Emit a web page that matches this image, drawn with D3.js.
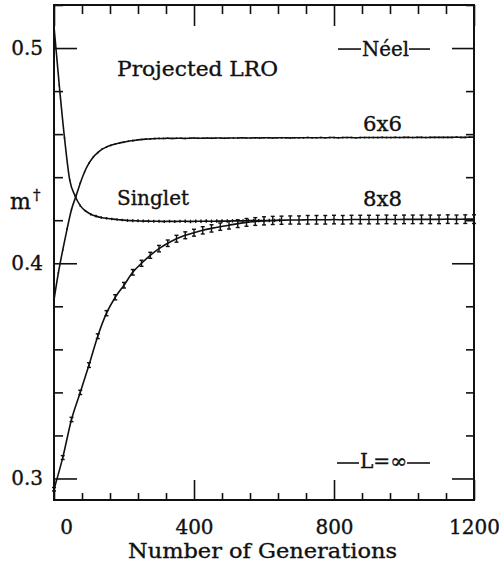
<!DOCTYPE html>
<html>
<head>
<meta charset="utf-8">
<script src="https://cdn.jsdelivr.net/npm/d3@7"></script>
<style>
  body { margin: 0; background: #fff; }
  text { font-family: "DejaVu Serif", serif; fill: #111; stroke: #111; stroke-width: 0.35; }
</style>
</head>
<body>
<div id="chart"></div>
<script>
// generations at which each run was sampled
var gens6 = d3.range(0, 1201, 12.5);
var gensSinglet = d3.range(0, 646, 15);
var gens8 = d3.range(0, 1201, 25);

// 6x6 projected from Neel state
var m6x6 = [
  0.3830, 0.3955, 0.4062, 0.4160, 0.4250, 0.4310, 0.4372, 0.4425, 0.4465, 0.4494,
  0.4514, 0.4530, 0.4540, 0.4548, 0.4554, 0.4559, 0.4563, 0.4567, 0.4570, 0.4573,
  0.4575, 0.4577, 0.4578, 0.4579, 0.4580,
  0.4580, 0.4581, 0.4580, 0.4581, 0.4581, 0.4580, 0.4581, 0.4582, 0.4581, 0.4581,
  0.4582, 0.4581, 0.4582, 0.4582, 0.4581, 0.4582,
  0.4582, 0.4582, 0.4583, 0.4582, 0.4582, 0.4583, 0.4582, 0.4583, 0.4583, 0.4582,
  0.4583, 0.4583, 0.4583, 0.4582, 0.4583, 0.4583,
  0.4583, 0.4584, 0.4583, 0.4583, 0.4584, 0.4583, 0.4584, 0.4584, 0.4583, 0.4584,
  0.4584, 0.4584, 0.4583, 0.4584, 0.4584, 0.4584,
  0.4584, 0.4584, 0.4585, 0.4584, 0.4584, 0.4585, 0.4584, 0.4585, 0.4585, 0.4584,
  0.4585, 0.4585, 0.4584, 0.4585, 0.4585, 0.4585,
  0.4585, 0.4585, 0.4585, 0.4586, 0.4585, 0.4585, 0.4586, 0.4586
];
var err6x6 = 0.0004;

// singlet start
var mSinglet = [
  0.5100, 0.4828, 0.4583, 0.4386, 0.4314, 0.4268, 0.4243, 0.4228, 0.4219, 0.4213,
  0.4209, 0.4206, 0.4203, 0.4201, 0.4199, 0.4198, 0.4197, 0.4196, 0.4196, 0.4195,
  0.4195, 0.4194, 0.4195, 0.4194, 0.4195, 0.4195, 0.4194, 0.4195, 0.4195, 0.4196,
  0.4195, 0.4196, 0.4196, 0.4196, 0.4197, 0.4197, 0.4197, 0.4198, 0.4198, 0.4198,
  0.4199, 0.4199, 0.4199, 0.4200
];
var errSinglet = [
  0.0003, 0.0003, 0.0004, 0.0004, 0.0005, 0.0005, 0.0005, 0.0006, 0.0006, 0.0006,
  0.0006, 0.0006, 0.0006, 0.0006, 0.0007, 0.0007, 0.0007, 0.0007, 0.0007, 0.0007,
  0.0007, 0.0007, 0.0007, 0.0007, 0.0007, 0.0008, 0.0008, 0.0008, 0.0008, 0.0008,
  0.0008, 0.0008, 0.0008, 0.0008, 0.0008, 0.0008, 0.0008, 0.0008, 0.0008, 0.0008,
  0.0008, 0.0008, 0.0008, 0.0008
];

// 8x8
var m8x8 = [
  0.2950, 0.3097, 0.3274, 0.3400, 0.3527, 0.3661, 0.3768, 0.3842, 0.3898, 0.3958,
  0.4000, 0.4037, 0.4068, 0.4093, 0.4114, 0.4130, 0.4142, 0.4153, 0.4162, 0.4170,
  0.4177, 0.4184, 0.4190, 0.4194, 0.4197, 0.4199, 0.4200, 0.4201, 0.4201, 0.4202,
  0.4202, 0.4202, 0.4203, 0.4202, 0.4203, 0.4203, 0.4203, 0.4203, 0.4204, 0.4203,
  0.4204, 0.4204, 0.4204, 0.4204, 0.4204, 0.4205, 0.4204, 0.4205, 0.4205
];
var err8x8 = [
  0.0008, 0.0009, 0.0010, 0.0010, 0.0011, 0.0011, 0.0012, 0.0012, 0.0013, 0.0013,
  0.0014, 0.0014, 0.0015, 0.0015, 0.0016, 0.0016, 0.0016, 0.0017, 0.0017, 0.0017,
  0.0018, 0.0018, 0.0018, 0.0018, 0.0019, 0.0019, 0.0019, 0.0019, 0.0019, 0.0020,
  0.0020, 0.0020, 0.0020, 0.0020, 0.0020, 0.0020, 0.0020, 0.0020, 0.0020, 0.0020,
  0.0020, 0.0020, 0.0020, 0.0020, 0.0020, 0.0020, 0.0020, 0.0020, 0.0020
];

var xMajor = [0, 400, 800, 1200];
var xMinor = [80, 160, 240, 320, 480, 560, 640, 720, 880, 960, 1040, 1120];
var yMajor = [0.3, 0.4, 0.5];
var yMinor = [0.32, 0.34, 0.36, 0.38, 0.42, 0.44, 0.46, 0.48, 0.52];

var width = 499, height = 567;
var margin = {top: 5, right: 25, bottom: 67, left: 54};

var svg = d3.select("#chart").append("svg")
  .attr("width", width)
  .attr("height", height);

var x = d3.scaleLinear().domain([0, 1200]).range([margin.left, width - margin.right]);
var y = d3.scaleLinear().domain([0.29, 0.52]).range([height - margin.bottom, margin.top]);

function styleAxis(g) {
  g.select(".domain").remove();
  g.selectAll(".tick line").attr("stroke", "#111").attr("stroke-width", 1.6);
}

// bottom axis with labels
svg.append("g")
  .attr("transform", "translate(0," + y.range()[0] + ")")
  .call(d3.axisBottom(x).tickValues(xMajor).tickSizeInner(-20).tickSizeOuter(0).tickPadding(20).tickFormat(d3.format("d")))
  .call(styleAxis)
  .call(function(g) {
    g.selectAll("text")
      .attr("font-size", 20)
      .attr("font-family", "DejaVu Serif")
      .attr("fill", "#111")
      .attr("dx", function(d) { return d === 0 ? 12 : 0; });
  });
svg.append("g")
  .attr("transform", "translate(0," + y.range()[0] + ")")
  .call(d3.axisBottom(x).tickValues(xMinor).tickSizeInner(-7).tickSizeOuter(0).tickFormat(""))
  .call(styleAxis);
// top axis
svg.append("g")
  .attr("transform", "translate(0," + y.range()[1] + ")")
  .call(d3.axisTop(x).tickValues(xMajor).tickSizeInner(-21).tickSizeOuter(0).tickFormat(""))
  .call(styleAxis);
svg.append("g")
  .attr("transform", "translate(0," + y.range()[1] + ")")
  .call(d3.axisTop(x).tickValues(xMinor).tickSizeInner(-9).tickSizeOuter(0).tickFormat(""))
  .call(styleAxis);

// left axis with labels
svg.append("g")
  .attr("transform", "translate(" + x.range()[0] + ",0)")
  .call(d3.axisLeft(y).tickValues(yMajor).tickSizeInner(-23).tickSizeOuter(0).tickPadding(11).tickFormat(d3.format(".1f")))
  .call(styleAxis)
  .call(function(g) {
    g.selectAll("text")
      .attr("font-size", 20)
      .attr("font-family", "DejaVu Serif")
      .attr("fill", "#111");
  });
svg.append("g")
  .attr("transform", "translate(" + x.range()[0] + ",0)")
  .call(d3.axisLeft(y).tickValues(yMinor).tickSizeInner(-9).tickSizeOuter(0).tickFormat(""))
  .call(styleAxis);
// right axis
svg.append("g")
  .attr("transform", "translate(" + x.range()[1] + ",0)")
  .call(d3.axisRight(y).tickValues(yMajor).tickSizeInner(-22).tickSizeOuter(0).tickFormat(""))
  .call(styleAxis);
svg.append("g")
  .attr("transform", "translate(" + x.range()[1] + ",0)")
  .call(d3.axisRight(y).tickValues(yMinor).tickSizeInner(-8).tickSizeOuter(0).tickFormat(""))
  .call(styleAxis);

// frame
svg.append("rect")
  .attr("x", x.range()[0])
  .attr("y", y.range()[1])
  .attr("width", x.range()[1] - x.range()[0])
  .attr("height", y.range()[0] - y.range()[1])
  .attr("fill", "none")
  .attr("stroke", "#111")
  .attr("stroke-width", 2);

var line = d3.line()
  .x(function(d) { return x(d[0]); })
  .y(function(d) { return y(d[1]); })
  .curve(d3.curveMonotoneX);

function series(gens, vals, errs, cap) {
  var pts = gens.map(function(g, i) {
    return [g, vals[i], Array.isArray(errs) ? errs[i] : errs];
  });
  svg.append("path")
    .datum(pts)
    .attr("d", line)
    .attr("fill", "none")
    .attr("stroke", "#111")
    .attr("stroke-width", 1.6);
  var bars = svg.append("g").attr("stroke", "#111").attr("stroke-width", 1.4);
  bars.selectAll("line.bar")
    .data(pts)
    .join("line")
    .attr("class", "bar")
    .attr("x1", function(d) { return x(d[0]); })
    .attr("x2", function(d) { return x(d[0]); })
    .attr("y1", function(d) { return y(d[1] - d[2]); })
    .attr("y2", function(d) { return y(d[1] + d[2]); });
  if (cap) {
    ["lo", "hi"].forEach(function(side) {
      bars.selectAll("line.cap" + side)
        .data(pts)
        .join("line")
        .attr("class", "cap" + side)
        .attr("x1", function(d) { return x(d[0]) - cap; })
        .attr("x2", function(d) { return x(d[0]) + cap; })
        .attr("y1", function(d) { return y(side === "lo" ? d[1] - d[2] : d[1] + d[2]); })
        .attr("y2", function(d) { return y(side === "lo" ? d[1] - d[2] : d[1] + d[2]); });
    });
  }
}

series(gens6, m6x6, err6x6, 0);
series(gensSinglet, mSinglet, errSinglet, 0);
series(gens8, m8x8, err8x8, 2);

// labels
function label(txt, x0, yb, len) {
  var t = svg.append("text")
    .attr("x", x0)
    .attr("y", yb)
    .attr("font-size", 20)
    .text(txt);
  if (len) t.attr("textLength", len).attr("lengthAdjust", "spacingAndGlyphs");
  return t;
}

label("Projected LRO", 117, 76, 161);
label("Singlet", 117, 205, 72);
label("6x6", 363, 131, 39);
label("8x8", 363, 206, 39);
label("Néel", 362, 56, 47);
label("L=\u221e", 360, 468, 47);
label("Number of Generations", 128, 558, 269);

// dashes around the Neel / L=inf tags
[[y(0.5) + 1, 338, 361, 409, 430], [463, 337, 359, 407, 430]].forEach(function(r) {
  svg.append("line").attr("x1", r[1]).attr("x2", r[2]).attr("y1", r[0]).attr("y2", r[0])
    .attr("stroke", "#111").attr("stroke-width", 1.6);
  svg.append("line").attr("x1", r[3]).attr("x2", r[4]).attr("y1", r[0]).attr("y2", r[0])
    .attr("stroke", "#111").attr("stroke-width", 1.6);
});

// y label m-dagger
var ml = svg.append("text")
  .attr("x", 10)
  .attr("y", 209)
  .attr("font-size", 22);
ml.append("tspan").text("m");
ml.append("tspan").attr("font-size", 15).attr("dy", -9).attr("dx", 2).text("\u2020");
</script>
</body>
</html>
